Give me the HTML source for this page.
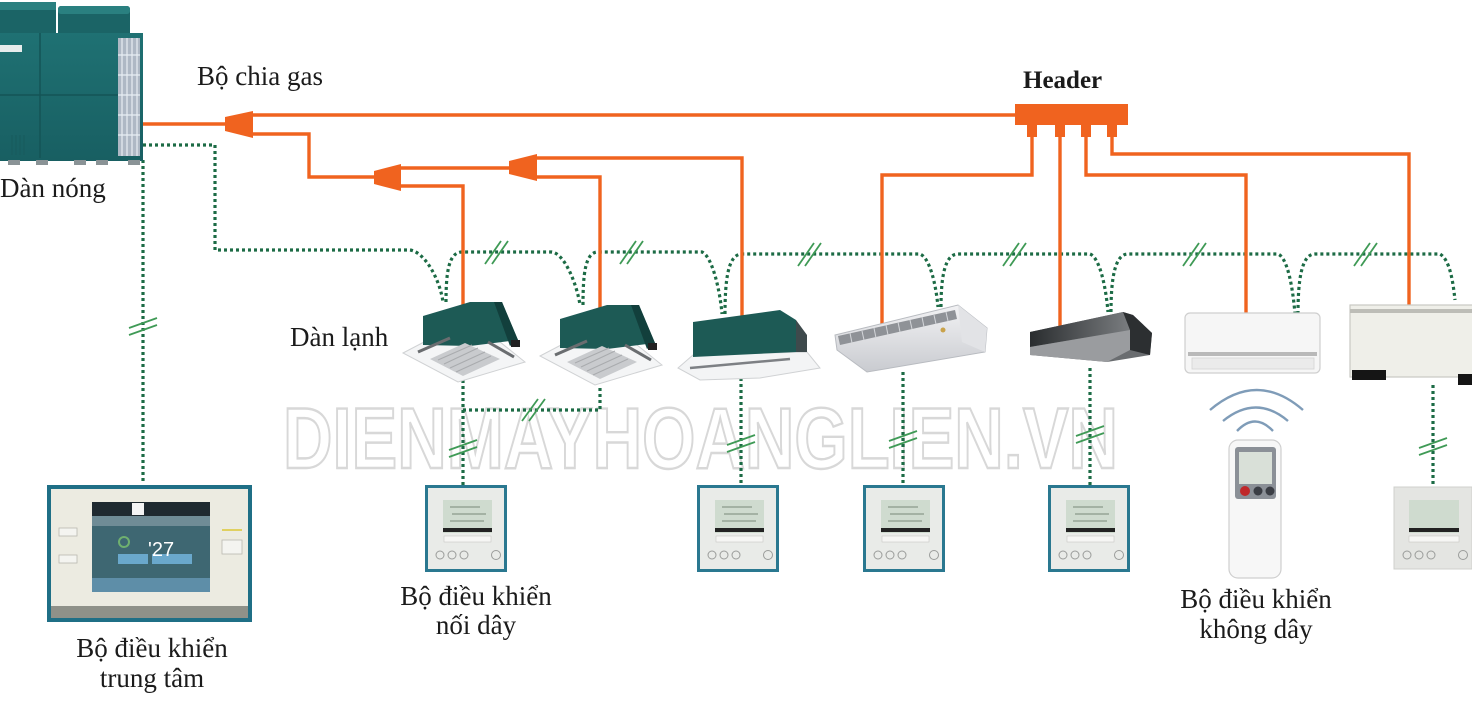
<!DOCTYPE html>
<html><head><meta charset="utf-8">
<style>
html,body{margin:0;padding:0;background:#fff;}
svg{display:block;}
.lbl{font-family:"Liberation Serif","Noto Serif CJK SC",serif;font-size:27px;fill:#1b1b1b;}
</style></head>
<body>
<svg width="1472" height="704" viewBox="0 0 1472 704" xmlns="http://www.w3.org/2000/svg">
<defs>
<linearGradient id="teal" x1="0" y1="0" x2="0" y2="1"><stop offset="0" stop-color="#1f7173"/><stop offset="1" stop-color="#185f62"/></linearGradient>
<linearGradient id="silver" x1="0" y1="0" x2="0" y2="1"><stop offset="0" stop-color="#f2f2f4"/><stop offset="1" stop-color="#c9cbd0"/></linearGradient>
<linearGradient id="duct" x1="0" y1="0" x2="1" y2="0"><stop offset="0" stop-color="#2a2d2f"/><stop offset="1" stop-color="#7a7d80"/></linearGradient>
</defs>
<rect width="1472" height="704" fill="#ffffff"/>

<!-- watermark -->
<text x="283" y="468" textLength="835" lengthAdjust="spacingAndGlyphs" font-family="Liberation Sans, sans-serif" font-weight="bold" font-size="86" fill="#ffffff" stroke="#d8d8d8" stroke-width="2.4">DIENMAYHOANGLIEN.VN</text>

<!-- green dotted control wiring -->
<g fill="none" stroke="#1c6b45" stroke-width="3.2" stroke-dasharray="3 3">
<path d="M143,145 H215 V250 H410 C425,252 440,280 443,302"/>
<path d="M446,302 C446,275 448,252 462,252 H552 C565,254 577,285 580,305"/>
<path d="M583,305 C583,275 585,252 598,252 H702 C712,256 720,290 722,314"/>
<path d="M725,314 C725,280 728,254 742,254 H920 C930,258 936,285 938,307"/>
<path d="M941,307 C941,280 944,254 958,254 H1090 C1100,258 1106,288 1108,312"/>
<path d="M1111,312 C1111,282 1114,254 1128,254 H1278 C1288,258 1293,290 1295,314"/>
<path d="M1298,314 C1298,282 1301,254 1315,254 H1440 C1450,260 1453,282 1455,300"/>
<path d="M143,160 V482"/>
<path d="M463,380 V485"/>
<path d="M463,410 H600 V385"/>
<path d="M741,378 V485"/>
<path d="M903,372 V485"/>
<path d="M1090,368 V485"/>
<path d="M1433,385 V487"/>
</g>
<!-- slash marks -->
<g stroke="#3f9a56" stroke-width="1.8" fill="none">
<path d="M485,264 L501,241 M492,264 L508,241"/>
<path d="M620,264 L636,241 M627,264 L643,241"/>
<path d="M798,266 L814,243 M805,266 L821,243"/>
<path d="M1003,266 L1019,243 M1010,266 L1026,243"/>
<path d="M1183,266 L1199,243 M1190,266 L1206,243"/>
<path d="M1354,266 L1370,243 M1361,266 L1377,243"/>
<path d="M522,421 L538,399 M529,421 L545,399"/>
<path d="M129,328 L157,318 M129,335 L157,325"/>
<path d="M449,450 L477,440 M449,457 L477,447"/>
<path d="M727,445 L755,435 M727,452 L755,442"/>
<path d="M889,441 L917,431 M889,448 L917,438"/>
<path d="M1076,436 L1104,426 M1076,443 L1104,433"/>
<path d="M1419,448 L1447,438 M1419,455 L1447,445"/>
</g>

<!-- orange refrigerant piping -->
<g fill="none" stroke="#f0631f" stroke-width="3.4">
<path d="M140,124 H228"/>
<path d="M250,115 H1017"/>
<path d="M250,134 H309 V177 H378"/>
<path d="M398,168 H512"/>
<path d="M398,186 H463 V318"/>
<path d="M535,158 H742 V316"/>
<path d="M535,177 H600 V308"/>
<path d="M1032,135 V175 H882 V326"/>
<path d="M1060,135 V328"/>
<path d="M1086,135 V175 H1246 V313"/>
<path d="M1112,135 V154 H1409 V307"/>
</g>
<g fill="#f0631f">
<polygon points="225,117 225,131 253,138 253,111"/>
<polygon points="374,171 374,184 401,191 401,164"/>
<polygon points="509,161 509,174 537,181 537,154"/>
<rect x="1015" y="104" width="113" height="21"/>
<rect x="1027" y="123" width="10" height="14"/>
<rect x="1055" y="123" width="10" height="14"/>
<rect x="1081" y="123" width="10" height="14"/>
<rect x="1107" y="123" width="10" height="14"/>
</g>

<!-- outdoor unit -->
<g>
<rect x="0" y="2" width="56" height="36" fill="#1b6466"/>
<rect x="0" y="2" width="56" height="8" fill="#2a8080"/>
<rect x="58" y="6" width="72" height="32" fill="#1b6466" rx="3"/>
<rect x="58" y="6" width="72" height="8" fill="#2a8080" rx="3"/>
<rect x="0" y="33" width="143" height="128" fill="url(#teal)"/>
<line x1="40" y1="33" x2="40" y2="158" stroke="#145456" stroke-width="1.5"/>
<line x1="0" y1="95" x2="118" y2="95" stroke="#145456" stroke-width="1.5"/>
<rect x="118" y="38" width="22" height="118" fill="#aeb8c4"/>
<g stroke="#e8eef4" stroke-width="1.2">
<line x1="122" y1="38" x2="122" y2="156"/><line x1="127" y1="38" x2="127" y2="156"/><line x1="132" y1="38" x2="132" y2="156"/><line x1="137" y1="38" x2="137" y2="156"/>
<line x1="118" y1="55" x2="140" y2="55"/><line x1="118" y1="75" x2="140" y2="75"/><line x1="118" y1="95" x2="140" y2="95"/><line x1="118" y1="115" x2="140" y2="115"/><line x1="118" y1="135" x2="140" y2="135"/>
</g>
<rect x="0" y="45" width="22" height="7" fill="#e6ecec"/>
<g fill="#8a9396"><rect x="8" y="160" width="12" height="5"/><rect x="36" y="160" width="12" height="5"/><rect x="74" y="160" width="12" height="5"/><rect x="96" y="160" width="12" height="5"/><rect x="128" y="160" width="12" height="5"/></g>
<g stroke="#175a5c" stroke-width="1"><line x1="12" y1="135" x2="12" y2="155"/><line x1="16" y1="135" x2="16" y2="155"/><line x1="20" y1="135" x2="20" y2="155"/><line x1="24" y1="135" x2="24" y2="155"/></g>
</g>

<!-- cassette 1 -->
<g id="cas">
<polygon points="403,353 470,318 525,362 458,382" fill="#f4f5f6" stroke="#d0d2d4" stroke-width="1"/>
<polygon points="423,316 470,302 502,302 518,340 470,346 423,345" fill="#1d5a55"/>
<polygon points="494,302 502,302 518,340 510,346" fill="#123f3c"/>
<rect x="511" y="340" width="9" height="7" fill="#222"/>
<polygon points="430,359 465,343 500,359 463,376" fill="#c9cbce"/>
<g stroke="#a9abae" stroke-width="1"><line x1="438" y1="360" x2="472" y2="345"/><line x1="444" y1="364" x2="478" y2="348"/><line x1="450" y1="368" x2="485" y2="352"/><line x1="456" y1="372" x2="491" y2="356"/></g>
<line x1="418" y1="352" x2="450" y2="338" stroke="#6a6d70" stroke-width="3"/>
<line x1="488" y1="342" x2="514" y2="357" stroke="#6a6d70" stroke-width="3"/>
</g>
<!-- cassette 2 -->
<use href="#cas" x="137" y="3"/>
<!-- unit 3: 1-way cassette -->
<g>
<polygon points="678,368 693,355 807,352 820,368 760,378 700,380" fill="#f3f4f5" stroke="#d0d2d4" stroke-width="1"/>
<polygon points="693,322 780,310 796,320 796,352 693,357" fill="#1d5a55"/>
<polygon points="780,310 796,320 807,335 807,352 796,352 796,320" fill="#3e4a4c"/>
<line x1="690" y1="368" x2="790" y2="359" stroke="#7d8084" stroke-width="2.5"/>
</g>
<!-- ceiling unit -->
<g>
<polygon points="835,335 958,305 987,328 985,352 867,372 837,350" fill="url(#silver)" stroke="#b8bbc0" stroke-width="1"/>
<polygon points="958,305 987,328 985,352 962,342" fill="#e2e3e6"/>
<polygon points="838,336 955,310 957,319 840,345" fill="#8f9297"/>
<g stroke="#d4d6da" stroke-width="1"><line x1="850" y1="333" x2="852" y2="343"/><line x1="862" y1="331" x2="864" y2="340"/><line x1="874" y1="328" x2="876" y2="338"/><line x1="886" y1="325" x2="888" y2="335"/><line x1="898" y1="322" x2="900" y2="332"/><line x1="910" y1="320" x2="912" y2="329"/><line x1="922" y1="317" x2="924" y2="327"/><line x1="934" y1="315" x2="936" y2="324"/><line x1="946" y1="312" x2="948" y2="321"/></g>
<circle cx="943" cy="330" r="2.5" fill="#c9a24a"/>
</g>
<!-- duct unit -->
<g>
<polygon points="1030,332 1123,312 1133,315 1152,333 1150,355 1107,362 1030,355" fill="#6a6d70"/>
<polygon points="1030,332 1123,312 1130,330 1030,347" fill="url(#duct)"/>
<polygon points="1030,347 1130,330 1130,350 1107,362 1030,355" fill="#9a9c9f"/>
<polygon points="1123,312 1133,315 1152,333 1150,355 1130,350 1130,330" fill="#2c2f31"/>
</g>
<!-- wall unit -->
<g>
<rect x="1185" y="313" width="135" height="60" rx="5" fill="#f6f6f6" stroke="#cfcfcf" stroke-width="1.2"/>
<rect x="1188" y="352" width="129" height="4" fill="#b9b9b9"/>
<rect x="1192" y="358" width="122" height="11" fill="#ebebeb" stroke="#d4d4d4" stroke-width="0.8"/>
</g>
<!-- floor unit -->
<g>
<rect x="1350" y="305" width="124" height="72" fill="#efefe9" stroke="#c9c9c3" stroke-width="1.2"/>
<rect x="1350" y="309" width="124" height="4" fill="#bdbdb7"/>
<rect x="1352" y="370" width="34" height="10" fill="#151515"/>
<rect x="1458" y="374" width="14" height="11" fill="#151515"/>
</g>

<!-- central controller -->
<g>
<rect x="47" y="485" width="205" height="137" fill="#1f6f86"/>
<rect x="51" y="489" width="197" height="129" fill="#ecebe1"/>
<rect x="51" y="606" width="197" height="12" fill="#8f9189"/>
<rect x="92" y="502" width="118" height="90" fill="#3e6772"/>
<rect x="92" y="502" width="118" height="14" fill="#1f2a30"/>
<rect x="132" y="503" width="12" height="12" fill="#f4f4f4"/>
<rect x="92" y="516" width="118" height="10" fill="#6f8c96"/>
<rect x="92" y="578" width="118" height="14" fill="#5e8ea8"/>
<rect x="118" y="554" width="30" height="10" fill="#6aa8cc"/>
<rect x="152" y="554" width="40" height="10" fill="#6aa8cc"/>
<text x="148" y="556" font-family="Liberation Sans, sans-serif" font-size="20" fill="#ffffff">'27</text>
<circle cx="124" cy="542" r="5" fill="none" stroke="#6fb06f" stroke-width="2"/>
<rect x="59" y="528" width="18" height="8" fill="#f4f4f0" stroke="#b8b8b0" stroke-width="0.8"/>
<rect x="59" y="555" width="18" height="8" fill="#f4f4f0" stroke="#b8b8b0" stroke-width="0.8"/>
<rect x="222" y="540" width="20" height="14" fill="#f4f4f0" stroke="#b8b8b0" stroke-width="0.8"/>
<rect x="222" y="529" width="20" height="2" fill="#e0d060"/>
</g>

<!-- wired controllers -->
<g id="wc">
<rect x="425" y="485" width="82" height="87" fill="#2a7890"/>
<rect x="428" y="488" width="76" height="81" fill="#e9ebe8"/>
<rect x="443" y="500" width="49" height="33" fill="#cfdbcf"/>
<rect x="443" y="528" width="49" height="4" fill="#222"/>
<g stroke="#7a8a7a" stroke-width="1"><line x1="450" y1="507" x2="480" y2="507"/><line x1="452" y1="514" x2="486" y2="514"/><line x1="450" y1="521" x2="484" y2="521"/></g>
<rect x="444" y="536" width="47" height="6" fill="#f6f6f4" stroke="#c8c8c4" stroke-width="0.6"/>
<g fill="none" stroke="#9a9c9a" stroke-width="1"><circle cx="440" cy="555" r="4"/><circle cx="452" cy="555" r="4"/><circle cx="464" cy="555" r="4"/><circle cx="496" cy="555" r="4.5"/></g>
</g>
<use href="#wc" x="272" y="0"/>
<use href="#wc" x="438" y="0"/>
<use href="#wc" x="623" y="0"/>
<!-- last controller (no border) -->
<g>
<rect x="1394" y="487" width="78" height="82" fill="#e4e5e2" stroke="#cfd0cc" stroke-width="1"/>
<rect x="1409" y="500" width="50" height="33" fill="#cfdbcf"/>
<rect x="1409" y="528" width="50" height="4" fill="#222"/>
<rect x="1409" y="536" width="50" height="6" fill="#f6f6f4" stroke="#c8c8c4" stroke-width="0.6"/>
<g fill="none" stroke="#9a9c9a" stroke-width="1"><circle cx="1407" cy="555" r="4"/><circle cx="1419" cy="555" r="4"/><circle cx="1431" cy="555" r="4"/><circle cx="1463" cy="555" r="4.5"/></g>
</g>

<!-- wireless remote -->
<g>
<g fill="none" stroke="#7f9cb8" stroke-width="2.4"><path d="M1210,410 Q1257,370 1303,410"/><path d="M1223,421 Q1256,394 1288,421"/><path d="M1237,431 Q1255,412 1273,431"/></g>
<rect x="1229" y="440" width="52" height="138" rx="9" fill="#f7f7f7" stroke="#cfcfcf" stroke-width="1.2"/>
<rect x="1235" y="447" width="41" height="52" rx="3" fill="#8b9097"/>
<rect x="1239" y="452" width="33" height="32" fill="#d9e0d8"/>
<circle cx="1245" cy="491" r="5" fill="#c0282a"/>
<circle cx="1258" cy="491" r="4.5" fill="#3a3d44"/>
<circle cx="1270" cy="491" r="4.5" fill="#3a3d44"/>
</g>

<!-- labels -->
<text class="lbl" x="197" y="85">Bộ chia gas</text>
<text class="lbl" x="1023" y="88" font-weight="bold" style="font-size:25px">Header</text>
<text class="lbl" x="0" y="197">Dàn nóng</text>
<text class="lbl" x="290" y="346">Dàn lạnh</text>
<text class="lbl" x="152" y="657" text-anchor="middle">Bộ điều khiển</text>
<text class="lbl" x="152" y="687" text-anchor="middle">trung tâm</text>
<text class="lbl" x="476" y="605" text-anchor="middle">Bộ điều khiển</text>
<text class="lbl" x="476" y="634" text-anchor="middle">nối dây</text>
<text class="lbl" x="1256" y="608" text-anchor="middle">Bộ điều khiển</text>
<text class="lbl" x="1256" y="638" text-anchor="middle">không dây</text>
</svg>
</body></html>
